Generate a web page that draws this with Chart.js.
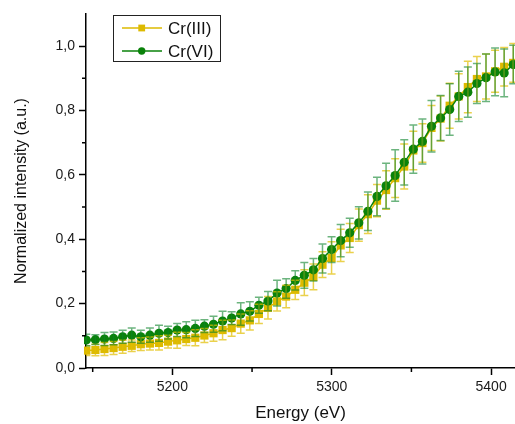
<!DOCTYPE html>
<html>
<head>
<meta charset="utf-8">
<script src="https://cdn.jsdelivr.net/npm/chart.js@4/dist/chart.umd.min.js"></script>
<style>
html,body{margin:0;padding:0;background:#fff;}
#wrap{width:515px;height:424px;position:relative;}
</style>
</head>
<body>
<div id="wrap"><canvas id="c"></canvas></div>
<script>
// ---- data ----
const energy = [5146.0,5151.7,5157.4,5163.1,5168.8,5174.5,5180.2,5185.9,5191.6,5197.3,
  5203.0,5208.7,5214.4,5220.1,5225.8,5231.5,5237.2,5242.9,5248.6,5254.3,
  5260.0,5265.7,5271.4,5277.1,5282.8,5288.5,5294.2,5299.9,5305.6,5311.3,
  5317.0,5322.7,5328.4,5334.1,5339.8,5345.5,5351.2,5356.9,5362.6,5368.3,
  5374.0,5379.7,5385.4,5391.1,5396.8,5402.5,5408.2,5413.9];

const cr3 = [0.054,0.056,0.059,0.062,0.066,0.069,0.074,0.076,0.078,0.082,
  0.086,0.090,0.094,0.101,0.108,0.118,0.124,0.138,0.148,0.168,
  0.187,0.207,0.222,0.243,0.265,0.283,0.321,0.342,0.381,0.404,
  0.444,0.478,0.520,0.553,0.590,0.626,0.676,0.699,0.746,0.775,
  0.815,0.844,0.873,0.898,0.906,0.922,0.936,0.948];
const cr3Err = [0.015,0.018,0.020,0.020,0.020,0.018,0.020,0.020,0.022,0.020,
  0.025,0.020,0.025,0.022,0.025,0.030,0.025,0.030,0.030,0.030,
  0.035,0.030,0.035,0.030,0.040,0.040,0.040,0.050,0.050,0.045,
  0.050,0.060,0.050,0.060,0.060,0.070,0.060,0.060,0.070,0.070,
  0.070,0.070,0.080,0.070,0.070,0.065,0.060,0.060];

const cr6 = [0.087,0.088,0.090,0.092,0.097,0.102,0.097,0.102,0.108,0.110,
  0.118,0.119,0.123,0.130,0.136,0.146,0.155,0.168,0.176,0.195,
  0.208,0.233,0.247,0.272,0.288,0.305,0.340,0.368,0.396,0.420,
  0.451,0.487,0.533,0.566,0.598,0.639,0.680,0.704,0.751,0.777,
  0.803,0.844,0.857,0.884,0.902,0.920,0.917,0.943];
const cr6Err = [0.018,0.015,0.020,0.020,0.020,0.022,0.020,0.022,0.025,0.020,
  0.020,0.025,0.025,0.020,0.025,0.030,0.020,0.035,0.030,0.025,
  0.030,0.040,0.030,0.030,0.040,0.035,0.045,0.040,0.050,0.045,
  0.050,0.060,0.060,0.070,0.080,0.070,0.075,0.070,0.080,0.070,
  0.080,0.078,0.078,0.062,0.074,0.074,0.074,0.060];

const seriesNames = ['Cr(III)','Cr(VI)'];
const xTicks = [5200,5300,5400];
const xMinor = [5150,5250,5350];
const yTicks = [0,0.2,0.4,0.6,0.8,1.0];
const yMinor = [0.1,0.3,0.5,0.7,0.9];

const YEL = '#DDBA00';
const GRN = '#0A820A';

function pts(vals){ return vals.map((v,i)=>({x:energy[i], y:v})); }

const errorBars = {
  id:'errorBars',
  afterDatasetsDraw(chart){
    const {ctx, chartArea:a, scales:{x, y}} = chart;
    const sets = [
      {v:cr3, e:cr3Err, col:'rgba(225,190,0,0.7)'},
      {v:cr6, e:cr6Err, col:'rgba(10,130,40,0.6)'}
    ];
    ctx.save();
    ctx.beginPath(); ctx.rect(a.left, a.top, a.right-a.left, a.bottom-a.top); ctx.clip();
    ctx.lineWidth = 1.5;
    sets.forEach(s=>{
      ctx.strokeStyle = s.col;
      s.v.forEach((v,i)=>{
        const px = x.getPixelForValue(energy[i]);
        const y1 = y.getPixelForValue(v + s.e[i]);
        const y2 = y.getPixelForValue(v - s.e[i]);
        ctx.beginPath();
        ctx.moveTo(px, y1); ctx.lineTo(px, y2);
        ctx.moveTo(px-4, y1); ctx.lineTo(px+4, y1);
        ctx.moveTo(px-4, y2); ctx.lineTo(px+4, y2);
        ctx.stroke();
      });
    });
    ctx.restore();
  }
};

const extras = {
  id:'extras',
  afterDraw(chart){
    const {ctx, chartArea:a, scales:{x, y}} = chart;
    ctx.save();
    ctx.strokeStyle = '#000';
    ctx.lineWidth = 1.5;
    ctx.beginPath();
    xMinor.forEach(v=>{ const px = x.getPixelForValue(v); ctx.moveTo(px, a.bottom); ctx.lineTo(px, a.bottom+4); });
    yMinor.forEach(v=>{ const py = y.getPixelForValue(v); ctx.moveTo(a.left, py); ctx.lineTo(a.left-4, py); });
    ctx.stroke();
    // legend
    const bx = 113.5, by = 15.5, bw = 107, bh = 46;
    ctx.fillStyle = '#fff';
    ctx.fillRect(bx, by, bw, bh);
    ctx.strokeStyle = '#222'; ctx.lineWidth = 1;
    ctx.strokeRect(bx, by, bw, bh);
    const rows = [{y:28, col:YEL, shape:'rect'},{y:51, col:GRN, shape:'circle'}];
    rows.forEach((r,k)=>{
      ctx.strokeStyle = r.col; ctx.lineWidth = 1.5;
      ctx.beginPath(); ctx.moveTo(122, r.y); ctx.lineTo(162, r.y); ctx.stroke();
      ctx.fillStyle = r.col;
      if (r.shape==='rect') { ctx.fillRect(138.3, r.y-3.4, 6.8, 6.8); }
      else { ctx.beginPath(); ctx.arc(141.7, r.y, 3.7, 0, Math.PI*2); ctx.fill(); }
      ctx.fillStyle = '#111';
      ctx.font = '17px "Liberation Sans", Arial, sans-serif';
      ctx.textBaseline = 'middle'; ctx.textAlign = 'left';
      ctx.fillText(chart.data.datasets[k].label, 168, r.y+1.5);
    });
    ctx.restore();
  }
};

new Chart(document.getElementById('c'), {
  type:'line',
  data:{
    datasets:[
      { label:seriesNames[0], data:pts(cr3), borderColor:YEL, backgroundColor:YEL,
        borderWidth:1.5, pointStyle:'rect', pointRadius:5.8, pointBorderWidth:0, order:1, clip:2 },
      { label:seriesNames[1], data:pts(cr6), borderColor:GRN, backgroundColor:GRN,
        borderWidth:1.5, pointStyle:'circle', pointRadius:4.6, pointBorderWidth:0, order:0, clip:2 }
    ]
  },
  options:{
    responsive:true, maintainAspectRatio:false, animation:false,
    devicePixelRatio:1,
    layout:{autoPadding:false, padding:{left:0, top:14, right:0, bottom:0}},
    plugins:{legend:{display:false}, tooltip:{enabled:false}},
    scales:{
      x:{
        type:'linear', min:5145.8, max:5415,
        afterBuildTicks(s){ s.ticks = xTicks.map(v=>({value:v})); },
        afterFit(s){ s.height = 56; s.paddingLeft = 0; s.paddingRight = 0; },
        grid:{drawOnChartArea:false, tickLength:7, tickWidth:1.5, tickColor:'#000'},
        border:{display:true, color:'#000', width:1.5},
        ticks:{color:'#1a1a1a', padding:4, maxRotation:0, font:{family:'"Liberation Sans", Arial, sans-serif', size:14},
          callback:v=>String(v)},
        title:{display:true, text:'Energy (eV)', color:'#111', padding:{top:0,bottom:0},
          font:{family:'"Liberation Sans", Arial, sans-serif', size:17}}
      },
      y:{
        type:'linear', min:0, max:1.1,
        afterBuildTicks(s){ s.ticks = yTicks.map(v=>({value:v})); },
        afterFit(s){ s.width = 86; s.paddingTop = 0; s.paddingBottom = 0; },
        grid:{drawOnChartArea:false, tickLength:7, tickWidth:1.5, tickColor:'#000'},
        border:{display:true, color:'#000', width:1.5},
        ticks:{color:'#1a1a1a', padding:4, font:{family:'"Liberation Sans", Arial, sans-serif', size:14},
          callback:v=>Number(v).toFixed(1).replace('.',',')},
        title:{display:true, text:'Normalized intensity (a.u.)', color:'#111', padding:{top:12,bottom:0},
          font:{family:'"Liberation Sans", Arial, sans-serif', size:16}}
      }
    }
  },
  plugins:[errorBars, extras]
});
</script>
</body>
</html>
